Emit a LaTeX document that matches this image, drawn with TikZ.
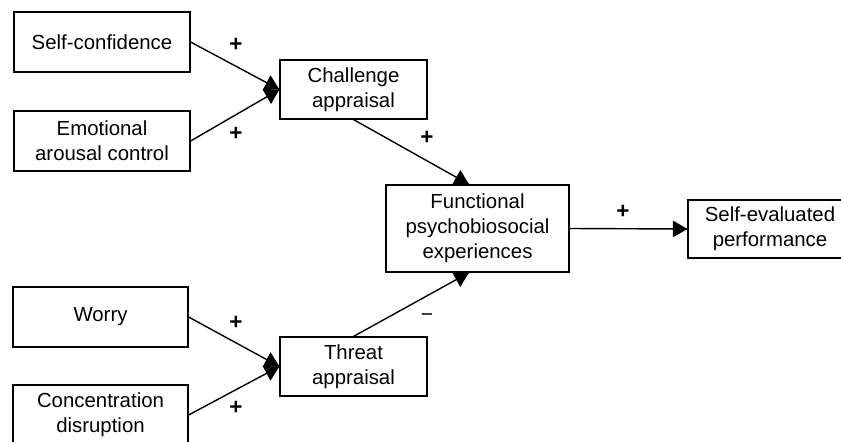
\documentclass[tikz,border=0pt]{standalone}
\usepackage{fontspec}
\setmainfont{Liberation Sans}
\usetikzlibrary{arrows}
\usetikzlibrary{decorations.markings}
\tikzset{arr/.style = {decoration={markings,
                                  mark=at position 1 with {\arrow[scale=1.4]{triangle 60}}},
                      postaction={decorate}}}
\tikzset{factor/.style = {draw, line width=0.8pt, align=center, inner sep=0,
                          font=\fontsize{14.5}{17.8}\selectfont}}
\tikzset{sign/.style = {font=\bfseries\fontsize{16}{16}\selectfont}}

\begin{document}
\begin{tikzpicture}[x=0.025cm, y=-0.025cm, line width=1pt]
    \useasboundingbox (0, 0) rectangle (841, 441);
    \clip (0, 0) rectangle (841, 441);

    \node (sc) [factor, minimum width=4.4cm, minimum height=1.5cm] at (102, 42) {Self-confidence};
    \node (eac) [factor, minimum width=4.4cm, minimum height=1.5cm] at (102, 141) {Emotional\\arousal control};
    \node (worry) [factor, minimum width=4.375cm, minimum height=1.5cm] at (100.5, 317) {Worry};
    \node (conc) [factor, minimum width=4.375cm, minimum height=1.5cm] at (100.5, 415) {Concentration\\disruption};

    \node (ca) [factor, minimum width=3.675cm, minimum height=1.475cm] at (353.5, 89.5) {Challenge\\appraisal};
    \node (threat) [factor, minimum width=3.675cm, minimum height=1.475cm] at (353.5, 366.5) {Threat\\appraisal};

    \node (fpe) [factor, minimum width=4.575cm, minimum height=2.175cm] at (477.5, 228.5) {Functional\\psychobiosocial\\experiences};
    \node (sep) [factor, minimum width=4.1cm, minimum height=1.45cm] at (770, 229) {Self-evaluated\\performance};

    \draw [arr] (sc.east) -- (ca.west);
    \draw [arr] (eac.east) -- (ca.west);
    \draw [arr] (ca.south) -- ([xshift=-6pt]fpe.north);
    \draw [arr] (worry.east) -- (threat.west);
    \draw [arr] (conc.east) -- (threat.west);
    \draw [arr] (threat.north) -- ([xshift=-6pt]fpe.south);
    \draw [arr] (fpe.east) -- (sep.west);

    \node (p1) [sign] at (236, 45) {+};
    \node (p2) [sign] at (236, 134) {+};
    \node (p3) [sign] at (427, 138) {+};
    \node (p4) [sign] at (236, 323) {+};
    \node (p5) [sign] at (236, 408) {+};
    \node (m1) [font=\fontsize{15}{15}\selectfont] at (427, 318) {−};
    \node (p6) [sign] at (623, 212) {+};
\end{tikzpicture}
\end{document}
